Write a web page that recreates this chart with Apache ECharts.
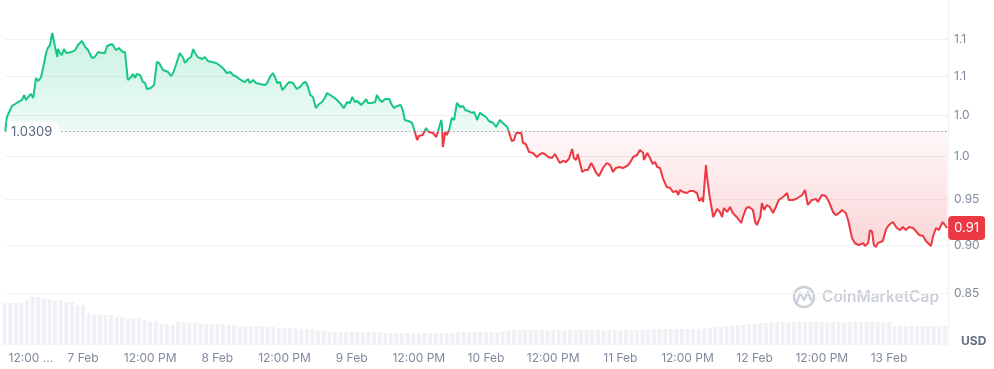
<!DOCTYPE html>
<html><head><meta charset="utf-8">
<script src="https://cdn.jsdelivr.net/npm/echarts@6/dist/echarts.min.js"></script>
<style>html,body{margin:0;padding:0;background:#fff}#c{width:994px;height:369px}</style>
</head><body><div id="c"></div>
<script>
// ---- data ----
const baseline = 1.0309;
const yTickValues = [0.85, 0.90, 0.95, 1.00, 1.05, 1.10, 1.15];
const yTickLabels = ["0.85", "0.90", "0.95", "1.0", "1.0", "1.1", "1.1"];
// hours since 6 Feb 00:00
const xTickHours = [12, 24, 36, 48, 60, 72, 84, 96, 108, 120, 132, 144, 156, 168];
const xTickLabels = ["12:00 ...", "7 Feb", "12:00 PM", "8 Feb", "12:00 PM", "9 Feb", "12:00 PM", "10 Feb", "12:00 PM", "11 Feb", "12:00 PM", "12 Feb", "12:00 PM", "13 Feb"];
// [hour, price USD]
const pricePoints = [
[10.1,1.0309],[10.4,1.0481],[11.3,1.0620],[11.9,1.0645],[12.4,1.0670],[13.1,1.0696],[13.5,1.0760],[13.8,1.0696],[14.2,1.0734],[14.7,1.0772],
[15.1,1.0721],[15.6,1.0980],[16.0,1.0940],[16.5,1.0993],[16.9,1.1124],[17.4,1.1311],[17.7,1.1379],[18.1,1.1419],[18.5,1.1584],[18.6,1.1556],
[19.0,1.1392],[19.4,1.1257],[19.5,1.1365],[19.9,1.1311],[20.2,1.1284],[20.6,1.1365],[21.0,1.1311],[21.3,1.1311],[22.0,1.1325],[22.6,1.1352],
[23.1,1.1419],[23.8,1.1474],[24.4,1.1392],[24.9,1.1352],[25.6,1.1244],[26.1,1.1257],[26.7,1.1325],[27.4,1.1311],[27.9,1.1311],[28.3,1.1406],
[29.2,1.1433],[29.5,1.1433],[29.9,1.1352],[30.4,1.1379],[31.1,1.1325],[31.5,1.1325],[32.0,1.0954],[32.6,1.0993],[32.9,1.1032],[33.3,1.0980],
[33.6,1.1032],[34.2,1.1019],[34.7,1.0927],[35.1,1.0914],[35.4,1.0837],[36.1,1.0850],[36.7,1.0888],[37.2,1.1191],[37.6,1.1178],[38.3,1.1085],
[38.6,1.1072],[39.2,1.1058],[39.7,1.1006],[40.1,1.1045],[40.6,1.1151],[41.3,1.1311],[41.9,1.1244],[42.2,1.1178],[42.8,1.1231],[43.3,1.1257],
[43.7,1.1365],[44.0,1.1311],[44.5,1.1257],[45.3,1.1231],[45.8,1.1257],[46.3,1.1204],[47.0,1.1191],[47.8,1.1178],[48.3,1.1151],[49.0,1.1111],
[49.7,1.1045],[50.3,1.1058],[50.8,1.1019],[51.5,1.0993],[52.2,1.0954],[52.9,1.0927],[53.5,1.0967],
[53.8,1.0914],[54.4,1.0954],[54.9,1.0914],[55.6,1.0901],[56.5,1.0888],[56.9,1.0914],[57.4,1.0993],[57.9,1.1045],[58.3,1.0993],[58.7,1.0914],
[59.2,1.0927],[59.6,1.0824],[60.1,1.0863],[60.8,1.0927],[61.5,1.0914],[62.2,1.0837],[62.8,1.0863],[63.3,1.0914],[63.8,1.0927],[64.2,1.0863],
[64.6,1.0760],[65.1,1.0734],[65.6,1.0594],[66.0,1.0632],[66.7,1.0670],[67.2,1.0721],[67.6,1.0785],[68.1,1.0760],[68.7,1.0734],[69.4,1.0696],
[69.9,1.0658],[70.6,1.0594],[71.2,1.0670],[71.7,1.0658],[72.1,1.0734],[72.6,1.0670],[73.0,1.0683],[73.7,1.0632],[74.2,1.0670],[74.6,1.0708],
[74.9,1.0658],[75.6,1.0658],[76.2,1.0670],[76.5,1.0760],[76.9,1.0708],[77.4,1.0670],[78.0,1.0708],[78.7,1.0708],[79.2,1.0632],[79.6,1.0594],
[80.1,1.0620],[80.8,1.0632],[81.2,1.0544],[81.5,1.0444],[82.1,1.0432],[82.8,1.0407],[83.3,1.0296],[83.7,1.0198],[84.0,1.0247],[84.7,1.0259],
[85.3,1.0345],[85.8,1.0296],[86.5,1.0284],[87.1,1.0235],[87.4,1.0296],[88.0,1.0444],[88.1,1.0407],[88.3,1.0114],[88.7,1.0296],[89.0,1.0259],
[89.4,1.0321],[89.9,1.0469],[90.3,1.0444],[90.8,1.0658],[91.4,1.0607],[91.9,1.0620],[92.3,1.0569],[92.8,1.0557],[93.5,1.0532],[93.9,1.0544],
[94.4,1.0444],[94.9,1.0532],[95.5,1.0506],[96.0,1.0481],[96.5,1.0432],[97.3,1.0407],[97.8,1.0357],[98.5,1.0444],[99.0,1.0407],[99.8,1.0357],
[100.1,1.0296],[100.6,1.0186],[101.0,1.0198],[101.4,1.0284],[101.7,1.0272],[102.3,1.0284],[102.6,1.0162],[103.1,1.0150],[103.7,1.0054],[104.4,1.0042],
[105.1,0.9994],[105.5,1.0018],[106.0,1.0042],[106.5,1.0030],[107.1,0.9994],[107.8,0.9982],[108.3,1.0030],[108.7,0.9982],[109.2,0.9923],[109.8,0.9947],
[110.3,0.9935],[110.8,0.9970],[111.4,1.0090],[111.7,0.9982],[112.1,0.9958],[112.4,1.0030],[113.2,0.9817],[113.7,0.9841],[114.2,0.9841],[114.8,0.9923],
[115.1,0.9888],[115.7,0.9806],[116.2,0.9771],[116.9,0.9864],[117.6,0.9923],[118.2,0.9899],[118.7,0.9817],[119.2,0.9864],[119.8,0.9876],[120.5,0.9864],
[121.2,0.9888],[121.7,0.9923],[122.3,0.9994],[123.0,1.0018],[123.5,1.0078],[124.1,1.0042],[124.2,0.9958],[124.8,1.0042],[125.3,0.9982],[125.8,0.9911],
[126.2,0.9935],[126.6,0.9876],[127.1,0.9864],[127.6,0.9747],[128.3,0.9643],[128.9,0.9632],[129.4,0.9586],[130.1,0.9598],[130.3,0.9552],[130.7,0.9609],
[131.2,0.9586],[131.9,0.9575],[132.4,0.9598],[133.0,0.9598],[133.7,0.9575],[134.1,0.9484],[134.6,0.9518],[134.8,0.9473],[135.3,0.9899],[135.5,0.9759],
[136.0,0.9518],[136.6,0.9305],[136.9,0.9294],[137.3,0.9394],[137.8,0.9361],[138.2,0.9305],[138.5,0.9405],[139.1,0.9361],[139.6,0.9417],[140.1,0.9350],
[140.8,0.9305],[141.2,0.9272],[141.6,0.9239],[141.9,0.9305],[142.5,0.9405],[143.0,0.9417],[143.7,0.9383],[144.1,0.9250],[144.4,0.9217],[145.0,0.9305],
[145.3,0.9461],[145.7,0.9383],[146.2,0.9439],[146.7,0.9417],[147.3,0.9350],[147.8,0.9417],[148.3,0.9495],[149.1,0.9529],[149.4,0.9507],[149.8,0.9575],
[150.1,0.9495],[150.8,0.9495],[151.4,0.9507],[151.7,0.9529],[152.5,0.9552],[153.0,0.9609],[153.5,0.9439],[154.2,0.9495],[155.0,0.9507],[155.3,0.9473],
[156.0,0.9552],[156.7,0.9541],[157.3,0.9473],[158.0,0.9361],[158.5,0.9327],[159.1,0.9350],[159.6,0.9383],[160.3,0.9350],[160.7,0.9272],[161.4,0.9075],
[161.9,0.9021],[162.6,0.9000],[163.4,0.9021],[163.7,0.8989],[164.3,0.9021],[164.6,0.9162],[165.0,0.9140],[165.3,0.9000],[165.7,0.8979],[166.0,0.9021],
[166.9,0.9043],[167.5,0.9173],[168.0,0.9217],[168.7,0.9250],[169.4,0.9184],[170.0,0.9162],[170.5,0.9195],[171.0,0.9162],[171.6,0.9195],[172.3,0.9184],
[172.8,0.9151],[173.4,0.9108],[174.1,0.9097],[174.6,0.9043],[175.5,0.8989],[175.9,0.9097],[176.4,0.9184],[176.9,0.9162],[177.6,0.9250],[178.0,0.9217],
[178.4,0.9184]
];
// hourly volume (relative), starting at hour 10
const volumeStartHour = 10;
const volumes = [
42,42,42,42,45,48,48,47,46,45,45,43,43,40,40,
31,30,30,30,30,28,28,27,27,27,25,24,24,21,21,20,
23,23,22,22,21,21,21,21,21,20,20,19,19,19,19,19,
18,18,17,17,17,17,16,16,15,
14,14,13,13,13,13,13,13,13,13,13,13,12,12,12,12,12,12,12,12,12,12,12,12,12,13,13,13,13,13,13,13,13,
14,14,15,15,15,15,15,15,15,15,15,15,15,15,15,15,15,15,15,15,15,15,15,15,15,15,15,
16,16,16,16,16,16,16,16,16,
17,17,18,18,19,19,20,20,21,21,22,22,23,23,
23,23,23,23,23,23,23,23,23,23,23,23,23,23,23,23,23,23,23,23,
19,19,19,19,19,19,19,19,19,19
];

// ---- build ----
const LN = Math.log;
const lnBase = LN(baseline);
const lineData = pricePoints.map(p => [p[0], LN(p[1])]);
const upData = pricePoints.map(p => [p[0], LN(Math.max(p[1], baseline))]);
const downData = pricePoints.map(p => [p[0], LN(Math.min(p[1], baseline))]);
const volData = volumes.map((v, i) => [volumeStartHour + i, v]);
const lastPrice = pricePoints[pricePoints.length - 1][1];
const GREEN = '#16c784', RED = '#ea3943', GRID = '#eff2f5', LABEL = '#808a9d';
const FONT = 'Inter, "Noto Sans", sans-serif';
const yMin = LN(0.799), yMax = LN(1.2048);

const chart = echarts.init(document.getElementById('c'), null, {renderer: 'canvas'});
chart.setOption({
  animation: false,
  backgroundColor: '#fff',
  textStyle: {fontFamily: FONT},
  grid: {left: 5, right: 46, top: 0, bottom: 24},
  xAxis: {
    type: 'value', min: 10.06, max: 178.55,
    axisLine: {show: false}, axisTick: {show: false}, splitLine: {show: false},
    axisLabel: {
      customValues: xTickHours, margin: 7, color: LABEL, fontSize: 12, fontFamily: FONT,
      formatter: v => {
        const i = xTickHours.indexOf(v);
        const s = i >= 0 ? xTickLabels[i] : '';
        return i === 0 ? '{first|' + s + '}' : s;
      },
      rich: {first: {padding: [0, 0, 0, 30], color: LABEL, fontSize: 12, fontFamily: FONT}}
    }
  },
  yAxis: [{
    type: 'value', position: 'right', min: yMin, max: yMax,
    axisLine: {show: true, lineStyle: {color: GRID, width: 1}},
    axisTick: {show: false, customValues: yTickValues.map(LN)},
    splitLine: {show: true, lineStyle: {color: GRID, width: 1}},
    axisLabel: {
      customValues: yTickValues.map(LN), margin: 6, color: LABEL, fontSize: 12, fontFamily: FONT,
      formatter: v => {
        const i = yTickValues.findIndex(t => Math.abs(LN(t) - v) < 1e-6);
        return i >= 0 ? yTickLabels[i] : '';
      }
    }
  }, {
    type: 'value', min: 0, max: 345, show: false
  }],
  visualMap: {
    type: 'piecewise', show: false, seriesIndex: 3, dimension: 1,
    pieces: [{gt: lnBase, lte: yMax, color: GREEN}, {gte: yMin, lte: lnBase, color: RED}],
    outOfRange: {color: RED}
  },
  series: [{
    type: 'bar', yAxisIndex: 1, data: volData, barWidth: 4, silent: true,
    itemStyle: {color: '#eff1f5'}
  }, {
    type: 'line', data: upData, symbol: 'none', silent: true,
    lineStyle: {width: 0},
    areaStyle: {origin: lnBase, color: new echarts.graphic.LinearGradient(0, 0, 0, 1, [
      {offset: 0, color: 'rgba(22,199,132,0.32)'}, {offset: 1, color: 'rgba(22,199,132,0.11)'}])}
  }, {
    type: 'line', data: downData, symbol: 'none', silent: true,
    lineStyle: {width: 0},
    areaStyle: {origin: lnBase, color: new echarts.graphic.LinearGradient(0, 0, 0, 1, [
      {offset: 0, color: 'rgba(234,57,67,0.05)'}, {offset: 1, color: 'rgba(234,57,67,0.30)'}])}
  }, {
    type: 'line', data: lineData, symbol: 'none', silent: true,
    lineStyle: {width: 2},
    endLabel: {
      show: true, distance: 1,
      formatter: () => (Math.floor(lastPrice * 100) / 100).toFixed(2),
      backgroundColor: RED, color: '#fff', fontSize: 13, fontFamily: FONT,
      padding: [6, 6, 5, 6], borderRadius: 4
    },
    markLine: {
      silent: true, symbol: ['none', 'none'],
      data: [{yAxis: lnBase}],
      lineStyle: {type: [1.5, 2.5], color: '#8a94a6', width: 1},
      label: {
        show: true, position: 'insideStartBottom', distance: [2, -10],
        formatter: () => baseline.toFixed(4),
        backgroundColor: '#fff', color: '#58667e', fontSize: 13, fontFamily: FONT,
        padding: [4, 7, 3, 4], borderRadius: [0, 6, 0, 0]
      }
    }
  }],
  graphic: [{
    type: 'group', silent: true, z: 1,
    children: [{
      type: 'circle', shape: {cx: 804, cy: 297, r: 10},
      style: {fill: 'none', stroke: '#cbd0d8', lineWidth: 2.5}
    }, {
      type: 'polyline', shape: {points: [[797, 302], [800, 293], [804, 300], [808, 292], [811, 300]]},
      style: {fill: 'none', stroke: '#cbd0d8', lineWidth: 2.2, lineJoin: 'round', lineCap: 'round'}
    }, {
      type: 'text', x: 822, y: 297,
      style: {text: 'CoinMarketCap', font: '600 15.5px ' + FONT, fill: '#cbd0d8', verticalAlign: 'middle'}
    }]
  }, {
    type: 'text', x: 961, y: 341, silent: true,
    style: {text: 'USD', font: 'bold 12px ' + FONT, fill: '#616e85', verticalAlign: 'middle'}
  }]
});
</script>
</body></html>
